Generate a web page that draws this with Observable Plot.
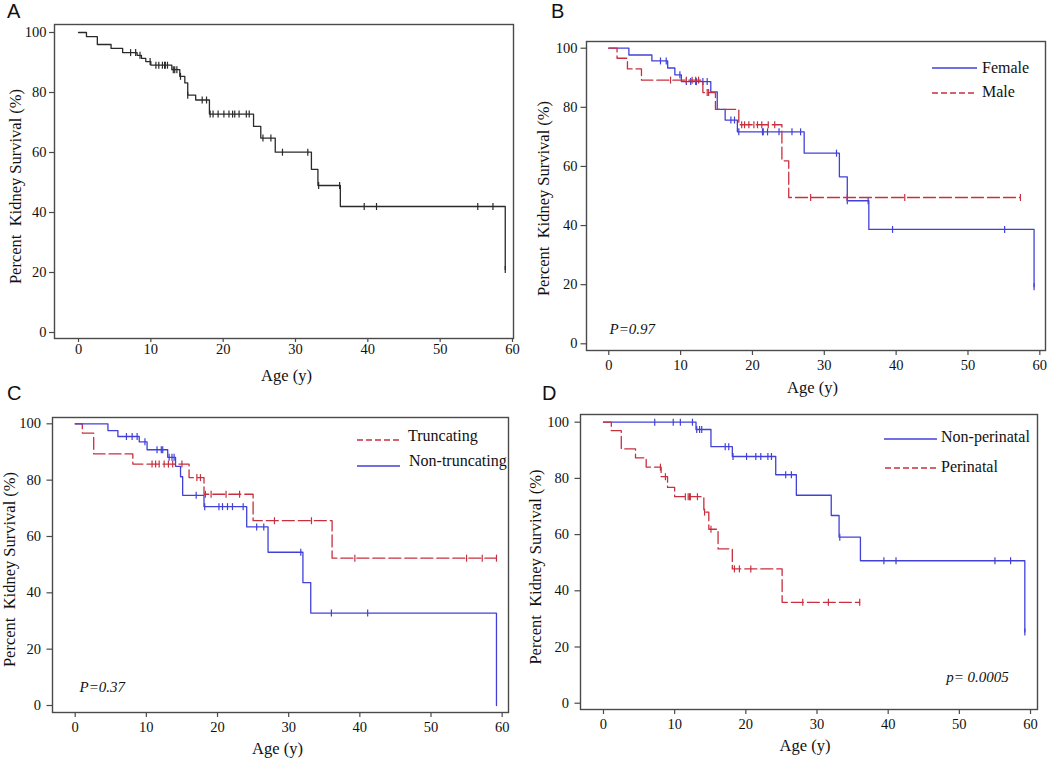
<!DOCTYPE html>
<html><head><meta charset="utf-8">
<script src="https://cdn.jsdelivr.net/npm/d3@7"></script>
<script src="https://cdn.jsdelivr.net/npm/@observablehq/plot@0.6"></script>
<style>
body{margin:0;background:#fff;}
#root{position:relative;width:1050px;height:761px;background:#fff;overflow:hidden;}
.panel{position:absolute;}
.letter{position:absolute;font-family:"Liberation Sans","DejaVu Sans",sans-serif;font-size:20px;color:#111;line-height:1;}
.leg{position:absolute;font-family:"Liberation Serif",serif;font-size:16px;color:#111;white-space:nowrap;line-height:1;}
.legline{position:absolute;overflow:visible;}
</style></head><body><div id="root"></div>
<script>
// ---------- DATA ----------
const ageTicks = [0, 10, 20, 30, 40, 50, 60];
const survTicks = [0, 20, 40, 60, 80, 100];
const yTitle = "Percent  Kidney Survival (%)";
const xTitle = "Age (y)";

// Panel A: all patients
const A_eventAge = [0, 1.1, 2.6, 4.5, 6.1, 8.1, 8.7, 9.3, 10.0, 12.9, 14.0, 14.7, 15.1, 16.2, 18.1, 24.2, 25.2, 27.2, 32.2, 33.1, 36.2, 59.0];
const A_survival = [100, 98.6, 96.0, 94.7, 93.3, 92.4, 91.4, 90.3, 89.1, 87.6, 85.4, 83.2, 79.1, 77.5, 72.8, 68.7, 64.8, 60.1, 54.4, 49.0, 42.0, 21.0];
const A_censorAge = [7.2, 7.9, 8.5, 9.9, 10.7, 11.1, 11.6, 11.9, 12.0, 12.3, 13.1, 13.3, 13.6, 14.1, 15.1, 17.1, 17.7, 18.2, 18.6, 19.3, 20.1, 20.8, 21.3, 21.6, 22.2, 23.2, 23.6, 25.5, 26.6, 28.2, 31.7, 33.2, 36.1, 39.5, 41.2, 55.2, 57.3, 59.0];

// Panel B: sex
const B_femaleAge = [0, 2.8, 6.0, 8.2, 9.2, 10.1, 14.2, 15.1, 16.2, 17.9, 27.2, 32.1, 33.2, 36.2, 59.2];
const B_femaleSurv = [100, 97.7, 95.7, 93.3, 91.0, 88.7, 85.2, 79.3, 75.7, 71.7, 64.5, 56.5, 48.4, 38.7, 19.3];
const B_femaleCensor = [7.2, 8.0, 9.9, 10.8, 11.4, 12.1, 12.2, 13.1, 13.7, 17.0, 17.5, 18.1, 21.4, 21.5, 22.1, 23.7, 25.5, 26.7, 31.7, 33.2, 36.1, 39.5, 55.1, 59.2];
const B_maleAge = [0, 1.15, 2.6, 4.55, 13.1, 14.85, 18.1, 24.1, 25.05];
const B_maleSurv = [100, 96.6, 93.0, 89.2, 85.0, 79.3, 74.1, 61.9, 49.5];
const B_maleCensor = [8.6, 10.8, 11.6, 12.1, 12.5, 13.7, 13.9, 18.5, 18.9, 19.5, 20.2, 20.7, 21.3, 22.2, 23.1, 28.1, 33.2, 41.2, 57.3];

// Panel C: mutation type
const C_truncAge = [0, 1.0, 2.6, 8.1, 16.0, 18.1, 25.0, 36.1];
const C_truncSurv = [100, 96.7, 89.3, 85.7, 80.9, 75.0, 65.6, 52.3];
const C_truncCensor = [10.8, 11.3, 11.8, 12.5, 13.1, 13.7, 15.0, 17.1, 17.6, 18.3, 19.1, 21.2, 23.1, 28.0, 33.2, 39.3, 55.0, 57.2, 59.2];
const C_nonAge = [0, 4.6, 6.0, 9.0, 10.1, 13.0, 14.1, 14.8, 15.1, 18.1, 24.1, 27.1, 32.0, 33.1, 59.2];
const C_nonSurv = [100, 97.6, 95.5, 93.6, 90.8, 88.1, 84.9, 81.2, 74.6, 70.6, 63.4, 54.4, 43.6, 32.8, 0];
const C_nonCensor = [7.2, 8.0, 8.7, 9.8, 11.5, 12.1, 12.3, 13.2, 13.6, 13.9, 17.0, 18.2, 20.2, 20.7, 21.4, 22.1, 23.6, 25.5, 26.5, 31.7, 36.0, 41.1];

// Panel D: perinatal onset
const D_nonAge = [0, 13.0, 15.1, 18.1, 24.2, 27.1, 32.0, 33.1, 36.1, 59.2];
const D_nonSurv = [100, 97.4, 91.3, 87.8, 81.3, 74.0, 66.8, 59.1, 50.7, 25.3];
const D_nonCensor = [7.2, 9.8, 10.8, 12.5, 13.1, 13.5, 13.8, 17.1, 17.6, 18.2, 20.1, 21.4, 22.1, 23.1, 23.6, 25.6, 26.4, 33.2, 39.4, 41.1, 55.0, 57.2, 59.2];
const D_periAge = [0, 1.1, 2.5, 4.5, 6.0, 8.1, 9.0, 10.0, 14.1, 14.8, 16.1, 18.1, 25.1];
const D_periSurv = [100, 97.0, 90.5, 87.3, 84.0, 80.6, 76.8, 73.5, 68.0, 61.9, 54.9, 47.8, 35.9];
const D_periCensor = [8.0, 8.7, 11.5, 11.9, 12.1, 12.2, 13.2, 14.2, 15.1, 18.4, 19.1, 20.7, 28.0, 31.6, 36.0];

// ---------- STYLE ----------
const BLUE = "#4141d8", RED = "#c8303f", BLACK = "#2a2a2a";
const SERIF = "Liberation Serif, Times New Roman, serif";

function curveRows(ages, surv, censors) {
  const rows = ages.map((a, i) => ({age: a, surv: surv[i]}));
  const last = Math.max(ages[ages.length - 1], ...censors);
  rows.push({age: last, surv: surv[surv.length - 1]});
  return rows;
}
function censorRows(ages, surv, censors) {
  return censors.map(c => {
    let v = surv[0];
    for (let i = 0; i < ages.length; i++) if (ages[i] <= c) v = surv[i];
    return {age: c, surv: v};
  });
}
const censorTick = {draw(ctx, size) { const r = Math.sqrt(size / Math.PI); ctx.moveTo(0, -r); ctx.lineTo(0, r); }};

const root = document.getElementById("root");

function drawPanel(cfg) {
  const marks = [
    Plot.frame({stroke: "#4a4a4a", strokeWidth: 1.4}),
    Plot.axisX({ticks: ageTicks, tickSize: cfg.xTick[0], tickPadding: cfg.xTick[1], label: null, stroke: "#4a4a4a", strokeWidth: 1.2, fill: "#111", fontSize: 14.5}),
    Plot.axisY({ticks: survTicks, tickSize: cfg.yTick[0], tickPadding: cfg.yTick[1], label: null, stroke: "#4a4a4a", strokeWidth: 1.2, fill: "#111", fontSize: 14.5})
  ];
  for (const s of cfg.series) {
    marks.push(Plot.line(curveRows(s.ages, s.surv, s.censor), {x: "age", y: "surv", curve: "step-after", stroke: s.color, strokeWidth: 1.3, strokeDasharray: s.dash}));
    marks.push(Plot.dot(censorRows(s.ages, s.surv, s.censor), {x: "age", y: "surv", symbol: censorTick, r: 3.5, stroke: s.color, strokeWidth: 1.2, fill: "none"}));
  }
  marks.push(Plot.text([xTitle], {text: d => d, frameAnchor: "bottom", textAnchor: "middle", dx: cfg.xTitle[0], dy: cfg.xTitle[1], fontSize: 16.5, fill: "#111"}));
  marks.push(Plot.text([yTitle], {text: d => d, frameAnchor: "left", textAnchor: "middle", lineAnchor: "middle", rotate: -90, dx: cfg.yTitle[0], dy: cfg.yTitle[1], fontSize: 16.5, fill: "#111"}));
  if (cfg.pval) marks.push(Plot.text([cfg.pval.text], {text: d => d, frameAnchor: cfg.pval.anchor, textAnchor: cfg.pval.textAnchor, lineAnchor: "middle", dx: cfg.pval.dx, dy: cfg.pval.dy, fontSize: 15, fontStyle: "italic", fill: "#111"}));
  const svg = Plot.plot({
    width: cfg.width, height: cfg.height,
    marginTop: cfg.m[0], marginRight: cfg.m[1], marginBottom: cfg.m[2], marginLeft: cfg.m[3],
    x: {type: "linear", domain: cfg.xDomain},
    y: {type: "linear", domain: cfg.yDomain},
    style: {fontFamily: SERIF, fontSize: "14.5px", background: "white", color: "#111", overflow: "visible"},
    marks
  });
  const div = document.createElement("div");
  div.className = "panel";
  div.style.left = cfg.left + "px"; div.style.top = cfg.top + "px";
  div.appendChild(svg);
  root.appendChild(div);
}

drawPanel({left: 0, top: 0, width: 525, height: 390, m: [24, 12, 52, 54],
  xDomain: [-3.32, 60.14], yDomain: [-2, 102.67], xTick: [4, 1], yTick: [5, 3],
  xTitle: [2.5, 42], yTitle: [-39, 5],
  series: [{ages: A_eventAge, surv: A_survival, censor: A_censorAge, color: BLACK}]});

drawPanel({left: 525, top: 0, width: 525, height: 400, m: [41, 5, 50, 61],
  xDomain: [-3.10, 60.79], yDomain: [-2.27, 102.27], xTick: [5, 4], yTick: [5.5, 3.5],
  xTitle: [-3.5, 42], yTitle: [-42.7, 2.5],
  pval: {text: "P=0.97", anchor: "bottom-left", textAnchor: "start", dx: 23, dy: -21},
  series: [
    {ages: B_femaleAge, surv: B_femaleSurv, censor: B_femaleCensor, color: BLUE},
    {ages: B_maleAge, surv: B_maleSurv, censor: B_maleCensor, color: RED, dash: "12,4"}
  ]});

drawPanel({left: 0, top: 390, width: 525, height: 371, m: [27, 17, 49, 52],
  xDomain: [-3.19, 60.89], yDomain: [-2.48, 102.24], xTick: [5, 4], yTick: [5.5, 6],
  xTitle: [-3, 41], yTitle: [-42.5, 4.5],
  pval: {text: "P=0.37", anchor: "bottom-left", textAnchor: "start", dx: 27, dy: -25},
  series: [
    {ages: C_truncAge, surv: C_truncSurv, censor: C_truncCensor, color: RED, dash: "12,4"},
    {ages: C_nonAge, surv: C_nonSurv, censor: C_nonCensor, color: BLUE}
  ]});

drawPanel({left: 525, top: 400, width: 525, height: 361, m: [14, 13, 52, 55],
  xDomain: [-3.23, 60.98], yDomain: [-2.24, 102.74], xTick: [5, 4], yTick: [5.5, 6],
  xTitle: [-4, 41], yTitle: [-45, 5],
  pval: {text: "p= 0.0005", anchor: "bottom-right", textAnchor: "end", dx: -28.7, dy: -32},
  series: [
    {ages: D_nonAge, surv: D_nonSurv, censor: D_nonCensor, color: BLUE},
    {ages: D_periAge, surv: D_periSurv, censor: D_periCensor, color: RED, dash: "12,4"}
  ]});

// ---------- LEGENDS & PANEL LETTERS ----------
function legendEntry(x1, x2, y, color, dash, label, textX, textMid) {
  const ns = "http://www.w3.org/2000/svg";
  const s = document.createElementNS(ns, "svg");
  s.setAttribute("class", "legline");
  s.setAttribute("width", x2 - x1); s.setAttribute("height", 6);
  s.style.left = x1 + "px"; s.style.top = (y - 3) + "px";
  const l = document.createElementNS(ns, "line");
  l.setAttribute("x1", 0); l.setAttribute("x2", x2 - x1); l.setAttribute("y1", 3); l.setAttribute("y2", 3);
  l.setAttribute("stroke", color); l.setAttribute("stroke-width", 1.4);
  if (dash) l.setAttribute("stroke-dasharray", dash);
  s.appendChild(l); root.appendChild(s);
  const t = document.createElement("div");
  t.className = "leg"; t.textContent = label;
  t.style.left = textX + "px"; t.style.top = (textMid - 8.1) + "px";
  root.appendChild(t);
}
legendEntry(932, 977, 68.3, BLUE, null, "Female", 982, 68.3);
legendEntry(932, 977, 93.3, RED, "6,3", "Male", 982, 92);
legendEntry(357, 400, 440, RED, "6,3", "Truncating", 408, 436);
legendEntry(357, 400, 466, BLUE, null, "Non-truncating", 409, 461);
legendEntry(884, 937, 438.7, BLUE, null, "Non-perinatal", 941, 437.5);
legendEntry(885, 937, 468.3, RED, "6,3", "Perinatal", 941, 467);

for (const [txt, x, y] of [["A", 7, 1.4], ["B", 551, 1.4], ["C", 7, 383], ["D", 542, 383]]) {
  const d = document.createElement("div");
  d.className = "letter"; d.textContent = txt;
  d.style.left = x + "px"; d.style.top = y + "px";
  root.appendChild(d);
}
</script>
</body></html>
